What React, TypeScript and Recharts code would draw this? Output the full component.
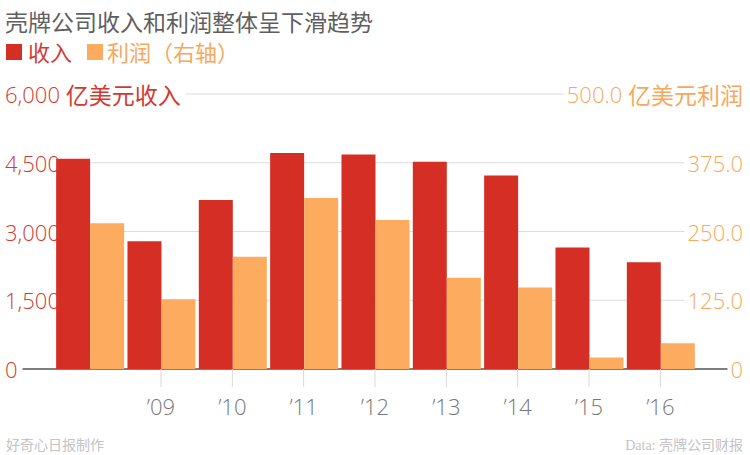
import { BarChart, Bar, XAxis, YAxis, CartesianGrid } from 'recharts';

// 壳牌 2008-2016 年收入（亿美元，左轴）和利润（亿美元，右轴）
const years = ['2008', '2009', '2010', '2011', '2012', '2013', '2014', '2015', '2016'];
const xLabels = ['', '’09', '’10', '’11', '’12', '’13', '’14', '’15', '’16'];
const revenue = [4587, 2789, 3685, 4711, 4681, 4521, 4222, 2650, 2330];
const profit = [265, 127, 204, 311, 271, 166, 148, 21, 47];
const leftTicks = [0, 1500, 3000, 4500, 6000];
const rightTicks = [0, 125, 250, 375, 500];
const leftUnit = '亿美元收入';
const rightUnit = '亿美元利润';

const RED = '#d52e25';
const ORANGE = '#fdac5f';
const RED_TEXT = '#d23a30';
const ORANGE_TEXT = '#f6a95c';

const W = 750;
const H = 455;
// axes get 1px each (recharts skips drawing a 0-sized axis)
const MARGIN = { top: 94, right: 53, bottom: 85, left: 53 };
const PLOT_BOTTOM = 369;
const PLOT_H = PLOT_BOTTOM - MARGIN.top;
const LEFT_X = 5;
const RIGHT_X = 743;

const NUM_FAMILY = "'Open Sans', 'Noto Sans', sans-serif";
const CJK_FAMILY = "'Noto Sans CJK SC', sans-serif";
const FONT_SIZE = 22;
const UNIT_SIZE = 23;

const data = years.map((y, i) => ({ year: y, label: xLabels[i], revenue: revenue[i], profit: profit[i] }));

let ctx: CanvasRenderingContext2D | null = null;
function textWidth(s: string, font: string) {
  if (!ctx) ctx = document.createElement('canvas').getContext('2d');
  if (!ctx) return s.length * 12;
  ctx.font = font;
  return ctx.measureText(s).width;
}

const numFont = `300 ${FONT_SIZE}px ${NUM_FAMILY}`;
const cjkFont = `400 ${UNIT_SIZE}px ${CJK_FAMILY}`;

function leftText(v: number) {
  return v.toLocaleString('en-US');
}
function rightText(v: number) {
  return v === 0 ? '0' : v.toFixed(1);
}

// width of a tick label; the top tick also carries the unit
function labelWidth(num: string, unit: string | null) {
  if (!unit) return textWidth(num, numFont);
  return textWidth(num + ' ', numFont) + textWidth(unit, cjkFont);
}

function GridLine(props: any) {
  const { y1 } = props;
  const k = Math.round(((PLOT_BOTTOM - y1) / PLOT_H) * (leftTicks.length - 1));
  if (k < 0 || k >= leftTicks.length) return null;
  const last = k === leftTicks.length - 1;
  const lw = labelWidth(leftText(leftTicks[k]), last ? leftUnit : null);
  const rw = labelWidth(rightText(rightTicks[k]), last ? rightUnit : null);
  const base = k === 0;
  return (
    <line
      x1={LEFT_X + lw + 5}
      x2={RIGHT_X - rw - 3}
      y1={y1}
      y2={y1}
      stroke={base ? '#555' : '#dcdcdc'}
      strokeWidth={base ? 1.5 : 1}
    />
  );
}

function LeftTick(props: any) {
  const { y, payload } = props;
  const v = payload.value as number;
  const top = v === leftTicks[leftTicks.length - 1];
  return (
    <text x={LEFT_X} y={y} fill={RED_TEXT} fontSize={FONT_SIZE} dominantBaseline="central" style={{ whiteSpace: 'pre' }}>
      <tspan fontFamily={NUM_FAMILY} fontWeight={300}>{leftText(v) + (top ? ' ' : '')}</tspan>
      {top && <tspan fontFamily={CJK_FAMILY} fontWeight={400} fontSize={UNIT_SIZE}>{leftUnit}</tspan>}
    </text>
  );
}

function RightTick(props: any) {
  const { y, payload } = props;
  const v = payload.value as number;
  const top = v === rightTicks[rightTicks.length - 1];
  return (
    <text x={RIGHT_X} y={y} fill={ORANGE_TEXT} fontSize={FONT_SIZE} textAnchor="end" dominantBaseline="central" style={{ whiteSpace: 'pre' }}>
      <tspan fontFamily={NUM_FAMILY} fontWeight={300}>{rightText(v) + (top ? ' ' : '')}</tspan>
      {top && <tspan fontFamily={CJK_FAMILY} fontWeight={400} fontSize={UNIT_SIZE}>{rightUnit}</tspan>}
    </text>
  );
}

function XTick(props: any) {
  const { x, y, payload } = props;
  const label = payload.value as string;
  if (!label) return null;
  return (
    <g>
      <line x1={x} x2={x} y1={y} y2={y + 18} stroke="#d8d8d8" strokeWidth={1} />
      <text x={x} y={y + 37} textAnchor="middle" dominantBaseline="central" fill="#777" fontSize={FONT_SIZE} fontFamily={NUM_FAMILY} fontWeight={300}>
        {label}
      </text>
    </g>
  );
}

export default function App() {
  return (
    <div style={{ position: 'absolute', left: 0, top: 0, width: W, height: H, background: '#fff', fontFamily: CJK_FAMILY }}>
      <BarChart width={W} height={H} data={data} margin={MARGIN} barCategoryGap="3%" barGap={0}>
        <CartesianGrid vertical={false} yAxisId="left" horizontal={GridLine} />
        <XAxis dataKey="label" axisLine={false} tickLine={false} tickSize={0} tickMargin={0} height={1} interval={0} tick={<XTick />} />
        <YAxis yAxisId="left" domain={[0, 6000]} ticks={leftTicks} width={1} axisLine={false} tickLine={false} tickSize={0} tickMargin={0} tick={<LeftTick />} />
        <YAxis yAxisId="right" orientation="right" domain={[0, 500]} ticks={rightTicks} width={1} axisLine={false} tickLine={false} tickSize={0} tickMargin={0} tick={<RightTick />} />
        <Bar yAxisId="left" dataKey="revenue" fill={RED} isAnimationActive={false} />
        <Bar yAxisId="right" dataKey="profit" fill={ORANGE} isAnimationActive={false} />
      </BarChart>

      <div style={{ position: 'absolute', left: 5, top: 10, fontSize: 23, lineHeight: '23px', color: '#5f5f5f' }}>
        壳牌公司收入和利润整体呈下滑趋势
      </div>
      <div style={{ position: 'absolute', left: 6, top: 40, fontSize: 22, lineHeight: '23px', display: 'flex', alignItems: 'center' }}>
        <span style={{ width: 16, height: 16, background: RED, display: 'inline-block', marginRight: 6 }} />
        <span style={{ color: RED_TEXT }}>收入</span>
        <span style={{ width: 16, height: 16, background: ORANGE, display: 'inline-block', marginLeft: 15, marginRight: 4 }} />
        <span style={{ color: ORANGE_TEXT }}>利润（右轴）</span>
      </div>
      <div style={{ position: 'absolute', left: 6, top: 438, fontSize: 14, lineHeight: '16px', color: '#c4c4c4', fontFamily: "'Liberation Serif', 'Noto Sans CJK SC', serif" }}>
        好奇心日报制作
      </div>
      <div style={{ position: 'absolute', right: 7, top: 438, fontSize: 14, lineHeight: '16px', color: '#c4c4c4', fontFamily: "'Liberation Serif', 'Noto Sans CJK SC', serif" }}>
        Data: 壳牌公司财报
      </div>
    </div>
  );
}
